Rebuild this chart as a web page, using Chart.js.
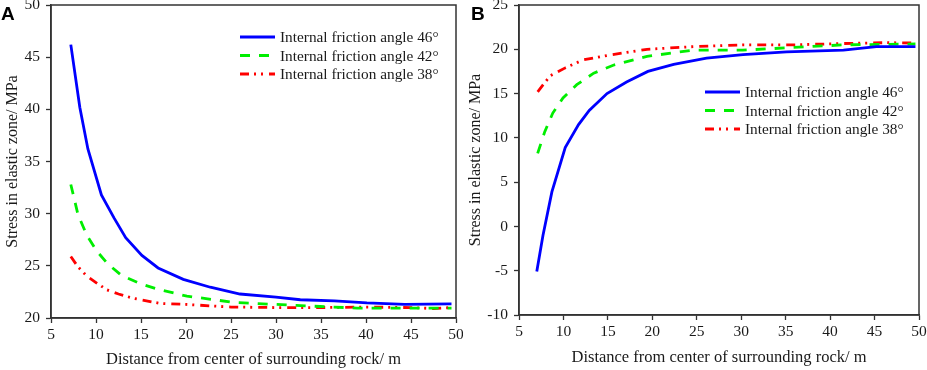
<!DOCTYPE html>
<html>
<head>
<meta charset="utf-8">
<script src="https://cdn.jsdelivr.net/npm/chart.js@4.4.1/dist/chart.umd.min.js"></script>
<style>
    body { margin: 0; background: #fff; width: 927px; height: 370px; overflow: hidden; position: relative; }
    .panel { position: absolute; top: 0; height: 370px; }
    .tag { position: absolute; font: bold 19px "Liberation Sans", Arial, sans-serif; color: #000; line-height: 1; }
</style>
</head>
<body>
<div class="panel" style="left:0;width:463px"><canvas id="chartA"></canvas></div>
<div class="panel" style="left:463px;width:464px"><canvas id="chartB"></canvas></div>
<div class="tag" style="left:1px;top:4px">A</div>
<div class="tag" style="left:471px;top:4px">B</div>
<script>
// Panel A - stress vs distance (decreasing curves)
const distA46 = [7.2, 8.2, 9.1, 10.6, 12.0, 13.3, 15.1, 16.9, 19.7, 22.7, 26.0, 30.0, 32.7, 36.5, 40.1, 44.3, 49.5];
const stressA46 = [46.2, 40.2, 36.2, 31.8, 29.6, 27.7, 26.0, 24.8, 23.7, 22.95, 22.3, 22.0, 21.75, 21.65, 21.45, 21.3, 21.35];
const distA42 = [7.2, 8.0, 9.0, 10.1, 11.3, 12.8, 14.9, 17.1, 20.1, 25.3, 30.0, 34.9, 39.0, 43.3, 49.5];
const stressA42 = [32.8, 29.9, 27.9, 26.4, 25.2, 24.1, 23.3, 22.7, 22.1, 21.5, 21.3, 21.1, 20.95, 20.95, 20.95];
const distA38 = [7.2, 8.0, 9.0, 10.0, 11.2, 12.5, 14.1, 17.1, 20.0, 25.0, 30.0, 35.0, 40.0, 45.0, 47.5, 49.5];
const stressA38 = [25.9, 24.9, 24.0, 23.4, 22.7, 22.3, 21.9, 21.4, 21.3, 21.05, 21.0, 21.0, 21.05, 21.0, 20.9, 21.0];

// Panel B - stress vs distance (increasing curves)
const distB46 = [7.0, 7.7, 8.7, 10.2, 11.7, 12.9, 14.9, 17.1, 19.5, 22.4, 26.1, 30.2, 35.1, 41.5, 45.2, 49.6];
const stressB46 = [-5.1, -1.0, 3.9, 8.9, 11.5, 13.1, 15.0, 16.3, 17.5, 18.3, 19.0, 19.4, 19.7, 19.9, 20.3, 20.3];
const distB42 = [7.1, 7.9, 8.8, 9.95, 11.5, 13.4, 15.6, 19.4, 24.6, 30.2, 35.8, 41.5, 49.6];
const stressB42 = [8.25, 10.7, 12.8, 14.5, 16.0, 17.3, 18.2, 19.2, 19.9, 19.9, 20.2, 20.5, 20.6];
const distB38 = [7.1, 8.5, 10.2, 12.2, 15.2, 19.4, 24.6, 30.2, 35.8, 41.5, 46.4, 49.6];
const stressB38 = [15.2, 17.0, 17.9, 18.8, 19.35, 20.0, 20.3, 20.5, 20.5, 20.65, 20.75, 20.7];

const seriesLabels = ['Internal friction angle 46°', 'Internal friction angle 42°', 'Internal friction angle 38°'];
const xTitle = 'Distance from center of surrounding rock/ m';
const yTitle = 'Stress in elastic zone/ MPa';

const AXIS = '#333';
const TEXT = '#1a1a1a';
const SERIF = '"Liberation Serif", "Times New Roman", serif';

function toPoints(xs, ys) {
    return xs.map((x, i) => ({ x: x, y: ys[i] }));
}

function makeDatasets(pairs) {
    const styles = [
        { color: '#0000ff', dash: [] },
        { color: '#00ee00', dash: [10, 9] },
        { color: '#ff0000', dash: [9, 5, 2, 5, 2, 6] }
    ];
    return pairs.map((p, i) => ({
        label: seriesLabels[i],
        data: toPoints(p[0], p[1]),
        borderColor: styles[i].color,
        borderDash: styles[i].dash,
        borderWidth: 2.8,
        pointRadius: 0,
        tension: 0,
        fill: false
    }));
}

// legend inside the plot + box frame
const panelPlugin = {
    id: 'panelDecor',
    afterDraw(chart, args, opts) {
        const ctx = chart.ctx;
        const a = chart.chartArea;
        ctx.save();
        ctx.strokeStyle = AXIS;
        ctx.lineWidth = 1.5;
        ctx.strokeRect(a.left, a.top, a.right - a.left, a.bottom - a.top);

        ctx.font = '15.3px ' + SERIF;
        ctx.textBaseline = 'middle';
        chart.data.datasets.forEach((ds, i) => {
            const y = opts.y + i * opts.gap;
            ctx.strokeStyle = ds.borderColor;
            ctx.lineWidth = ds.borderWidth;
            ctx.setLineDash(ds.borderDash);
            ctx.beginPath();
            ctx.moveTo(opts.x, y);
            ctx.lineTo(opts.x + 35, y);
            ctx.stroke();
            ctx.setLineDash([]);
            ctx.fillStyle = TEXT;
            ctx.fillText(ds.label, opts.x + 40, y + 1);
        });
        ctx.restore();
    }
};

function makeChart(id, cfg) {
    const ctx = document.getElementById(id).getContext('2d');
    return new Chart(ctx, {
        type: 'line',
        data: { datasets: cfg.datasets },
        plugins: [panelPlugin],
        options: {
            responsive: true,
            maintainAspectRatio: false,
            animation: false,
            layout: { padding: { left: 0, right: cfg.padRight, top: 5, bottom: 0 } },
            plugins: {
                legend: { display: false },
                tooltip: { enabled: false },
                panelDecor: cfg.legend
            },
            scales: {
                x: {
                    type: 'linear',
                    min: 5,
                    max: 50,
                    ticks: { stepSize: 5, padding: 3, color: TEXT, font: { family: SERIF, size: 15.5 } },
                    grid: { drawOnChartArea: false, drawTicks: true, tickLength: 5, color: AXIS, tickWidth: 1.3 },
                    border: { color: AXIS, width: 1.5 },
                    title: { display: true, text: xTitle, color: TEXT, font: { family: SERIF, size: 16.5 }, padding: { top: 0, bottom: cfg.xTitlePad } },
                    afterFit(s) { s.height = cfg.xHeight; s.paddingLeft = 0; s.paddingRight = 0; }
                },
                y: {
                    min: cfg.yMin,
                    max: cfg.yMax,
                    ticks: { stepSize: 5, padding: 6, color: TEXT, font: { family: SERIF, size: 15.5 } },
                    grid: { drawOnChartArea: false, drawTicks: true, tickLength: 5, color: AXIS, tickWidth: 1.3 },
                    border: { color: AXIS, width: 1.5 },
                    title: { display: true, text: yTitle, color: TEXT, font: { family: SERIF, size: 16 }, padding: { top: 3.5, bottom: 0 } },
                    afterFit(s) { s.width = cfg.yWidth; s.paddingTop = 0; s.paddingBottom = 0; }
                }
            }
        }
    });
}

makeChart('chartA', {
    datasets: makeDatasets([[distA46, stressA46], [distA42, stressA42], [distA38, stressA38]]),
    yMin: 20, yMax: 50,
    yWidth: 51, xHeight: 52, padRight: 7, xTitlePad: 0,
    legend: { x: 240, y: 37, gap: 18.5 }
});

makeChart('chartB', {
    datasets: makeDatasets([[distB46, stressB46], [distB42, stressB42], [distB38, stressB38]]),
    yMin: -10, yMax: 25,
    yWidth: 56, xHeight: 55, padRight: 8, xTitlePad: 2.5,
    legend: { x: 242, y: 92, gap: 18.5 }
});
</script>
</body>
</html>
